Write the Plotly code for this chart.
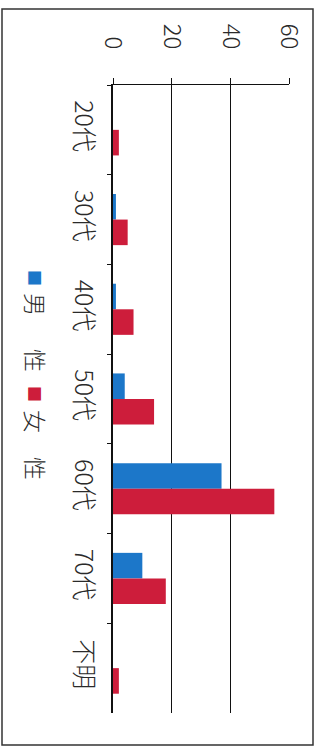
import plotly.graph_objects as go

# Age groups and respondent counts by sex
categories = ["20代", "30代", "40代", "50代", "60代", "70代", "不明"]
male = [0, 1, 1, 4, 37, 10, 0]
female = [2, 5, 7, 14, 55, 18, 2]
x_ticks = [0, 20, 40, 60]

BLUE = "#1c77c9"
RED = "#cd1d3b"
FONT = "Noto Sans CJK JP"
TEXT = "#2a2a2a"

W, H = 320, 756
L, R, T, B = 113, 31, 85, 43

fig = go.Figure()
fig.add_trace(go.Bar(y=categories, x=male, orientation="h", name="男　性",
                     marker=dict(color=BLUE, line=dict(width=0))))
fig.add_trace(go.Bar(y=categories, x=female, orientation="h", name="女　性",
                     marker=dict(color=RED, line=dict(width=0))))

fig.update_layout(
    width=W, height=H,
    margin=dict(l=L, r=R, t=T, b=B, pad=0),
    paper_bgcolor="white", plot_bgcolor="white",
    barmode="group", bargap=0.43, bargroupgap=0,
    showlegend=False,
    font=dict(family=FONT, color=TEXT),
)

fig.update_xaxes(
    side="top", range=[0, 60], tickvals=x_ticks,
    ticktext=[str(v) for v in x_ticks],
    tickangle=90, tickfont=dict(size=24, family=FONT, color=TEXT, weight=300),
    ticklabelstandoff=20,
    showgrid=True, gridcolor="#111", gridwidth=1.3,
    showline=True, linecolor="#111", linewidth=1.3,
    ticks="outside", ticklen=6, tickcolor="#111", tickwidth=1.3,
    zeroline=False, fixedrange=True,
)
fig.update_yaxes(
    type="category", autorange="reversed",
    tickangle=90, tickfont=dict(size=25, family=FONT, color=TEXT, weight=300),
    ticklabelstandoff=6,
    showgrid=False, showline=True, linecolor="#111", linewidth=1.5,
    ticks="outside", ticklen=4, tickcolor="#111", tickson="boundaries",
    zeroline=False, fixedrange=True,
)

pw, ph = W - L - R, H - T - B


def px(x):
    return (x - L) / pw


def py(y):
    return (H - B - y) / ph


# outer frame
fig.add_shape(type="rect", xref="paper", yref="paper",
              x0=px(2), x1=px(313), y0=py(745), y1=py(9),
              line=dict(color="#333", width=1.5), fillcolor="rgba(0,0,0,0)")

# rotated legend
legend_items = [
    ("■", BLUE, 278, 16),
    ("男", TEXT, 304, 23),
    ("性", TEXT, 360, 23),
    ("■", RED, 394, 16),
    ("女", TEXT, 421, 23),
    ("性", TEXT, 468, 23),
]
for txt, col, yy, sz in legend_items:
    fig.add_annotation(text=txt, xref="paper", yref="paper",
                       x=px(36), y=py(yy), showarrow=False, textangle=90,
                       font=dict(size=sz, color=col, family=FONT, weight=300),
                       xanchor="center", yanchor="middle")

fig.write_html("out.html")
